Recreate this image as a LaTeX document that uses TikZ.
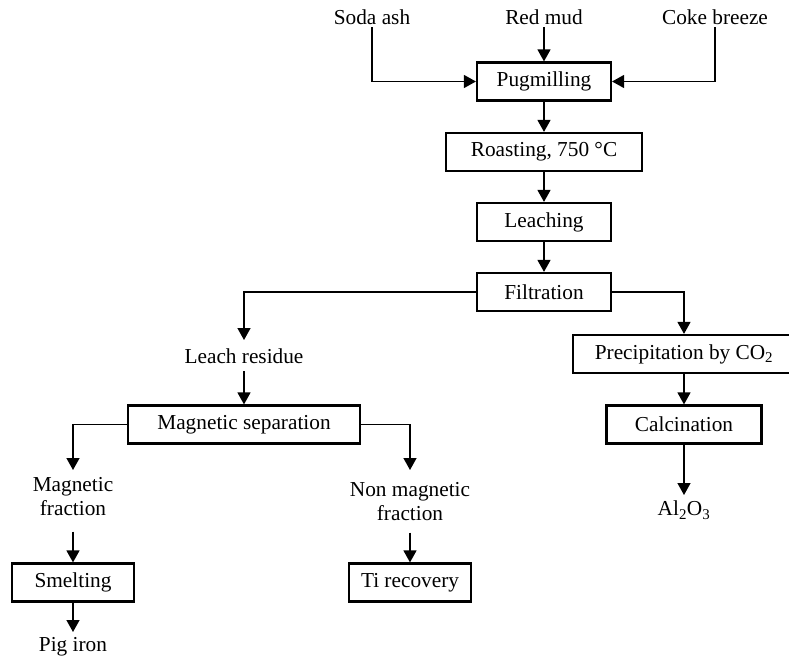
\documentclass[tikz,border=0pt]{standalone}
\usepackage{fontspec}
\setmainfont{Liberation Serif}
\usetikzlibrary{arrows.meta}
\begin{document}
\begin{tikzpicture}[x=1pt,y=-1pt,
  font=\fontsize{21.3}{24}\selectfont,
  box/.style={draw, line width=2.2pt, inner sep=0pt, minimum height=38pt, align=center},
  txt/.style={inner xsep=2pt, align=center},
  arr/.style={line width=1.4pt, -{Triangle[length=12pt,width=13pt]}}]
\useasboundingbox (0,0) rectangle (789,660);
% input labels
\node[txt, anchor=base, inner ysep=2pt] (soda) at (372,25) {Soda ash};
\node[txt, anchor=base, inner ysep=2pt] (red)  at (544,25) {Red mud};
\node[txt, anchor=base, inner ysep=2pt] (coke) at (715,25) {Coke breeze};
% main chain
\node[box, minimum width=134pt] (pug)   at (544,81.5) {Pugmilling};
\node[box, minimum width=196pt] (roast) at (544,152) {Roasting, 750 °C};
\node[box, minimum width=134pt] (leach) at (544,222) {Leaching};
\node[box, minimum width=134pt] (filt)  at (544,292) {Filtration};
% right branch
\node[box, minimum width=222pt] (prec) at (684,354) {Precipitation by CO\textsubscript{2}};
\node[box, minimum width=155pt] (calc) at (684,424.5) {Calcination};
\node[txt, anchor=north, inner ysep=6pt] (al) at (684,495) {Al\textsubscript{2}O\textsubscript{3}};
% left branch
\node[txt, anchor=base, inner ysep=8pt] (res) at (244,363) {Leach residue};
\node[box, minimum width=232pt] (mag) at (244,424.5) {Magnetic separation};
\node[txt, anchor=north, inner ysep=7pt] (mf) at (73,470) {Magnetic\\fraction};
\node[txt, anchor=north, inner ysep=12pt] (nmf) at (410,470) {Non magnetic\\fraction};
\node[box, minimum width=122pt] (smelt) at (73,582.5) {Smelting};
\node[box, minimum width=122pt] (ti) at (410,582.5) {Ti recovery};
\node[txt, anchor=north, inner ysep=5pt] (pig) at (73,632) {Pig iron};
% connectors
\draw[arr] (soda.south) |- (pug.west);
\draw[arr] (coke.south) |- (pug.east);
\draw[arr] (red.south) -- (pug.north);
\draw[arr] (pug) -- (roast);
\draw[arr] (roast) -- (leach);
\draw[arr] (leach) -- (filt);
\draw[arr] (filt.west) -| (res.north);
\draw[arr] (filt.east) -| (prec.north);
\draw[arr] (prec) -- (calc);
\draw[arr] (calc) -- (al.north);
\draw[arr] (res.south) -- (mag.north);
\draw[arr] (mag.west) -| (mf.north);
\draw[arr] (mag.east) -| (nmf.north);
\draw[arr, shorten <=9pt] (mf.south) -- (smelt.north);
\draw[arr] (nmf.south) -- (ti.north);
\draw[arr] (smelt) -- (pig.north);
\end{tikzpicture}
\end{document}
